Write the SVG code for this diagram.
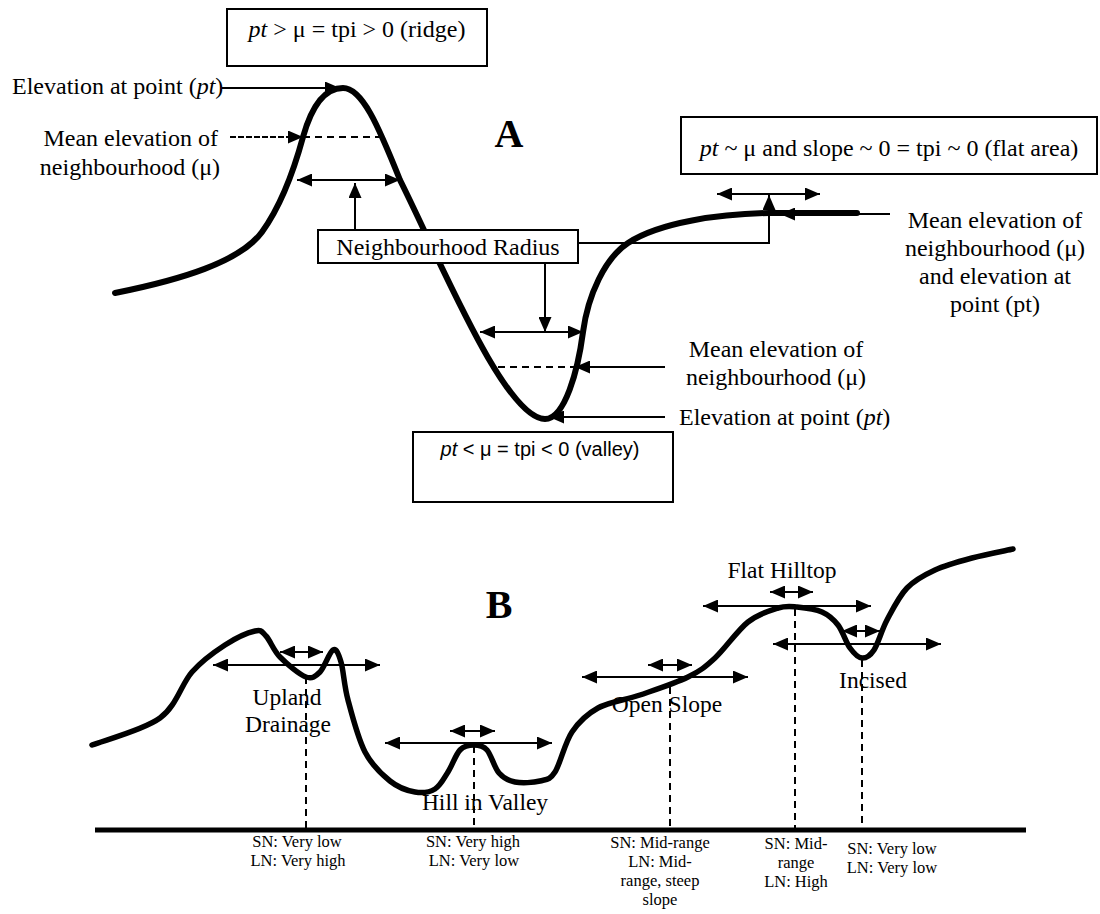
<svg xmlns="http://www.w3.org/2000/svg" width="1100" height="914" viewBox="0 0 1100 914">
<defs>
<style>
.bg{fill:#ffffff}
.box{fill:#ffffff;stroke:#000;stroke-width:2}
.lbl{font-family:"Liberation Serif","Times New Roman",serif;font-size:24px;fill:#000}
.lblb{font-family:"Liberation Serif","Times New Roman",serif;font-size:23.5px;fill:#000}
.sml{font-family:"Liberation Serif","Times New Roman",serif;font-size:16.5px;fill:#000}
.sans{font-family:"Liberation Sans",Arial,sans-serif;font-size:20px;fill:#000}
.big{font-family:"Liberation Serif","Times New Roman",serif;font-size:40px;font-weight:bold;fill:#000}
.it{font-style:italic}
.curve{fill:none;stroke:#000;stroke-width:6;stroke-linecap:round;stroke-linejoin:round}
.curveb{fill:none;stroke:#000;stroke-width:5.5;stroke-linecap:round;stroke-linejoin:round}
.ln{fill:none;stroke:#000;stroke-width:2}
.dash{fill:none;stroke:#000;stroke-width:2;stroke-dasharray:7 5}
.vdash{fill:none;stroke:#000;stroke-width:2;stroke-dasharray:7 5}
.arr{marker-end:url(#ah)}
.darr{marker-start:url(#ah);marker-end:url(#ah)}
</style>
<marker id="ah" markerUnits="userSpaceOnUse" markerWidth="15" markerHeight="13" refX="15" refY="6.5" orient="auto-start-reverse">
<path d="M0,0 L15,6.5 L0,13 z" fill="#000"/>
</marker>
</defs>
<rect class="bg" x="0" y="0" width="1100" height="914"/>

<!-- Panel A -->
<g id="profileA">
<path class="curve" d="M115,293 C180,280 240,262 262,232 C280,207 294,170 303,137 C312,105 325,88 343,88 C362,88 378,125 400,180 C440,260 505,419 545,419 C565,419 578,370 583,332 C588,295 605,258 628,243 C660,222 720,214 769,213 L857,213"/>
</g>
<g id="labelA"><text class="big" x="509" y="147" text-anchor="middle">A</text></g>

<g id="ridgeBox">
<rect class="box" x="227" y="9" width="260" height="57"/>
<text class="lbl" x="357" y="37" text-anchor="middle"><tspan class="it">pt</tspan> &gt; μ = tpi &gt; 0 (ridge)</text>
</g>
<g id="flatBox">
<rect class="box" x="681" y="117" width="416" height="57"/>
<text class="lbl" x="889" y="156" text-anchor="middle"><tspan class="it">pt</tspan> ~ μ and slope ~ 0 = tpi ~ 0 (flat area)</text>
</g>
<g id="radiusBox">
<rect class="box" x="318" y="230" width="260" height="33"/>
<text class="lbl" x="448" y="255" text-anchor="middle">Neighbourhood Radius</text>
</g>
<g id="valleyBox">
<rect class="box" x="413" y="432" width="260" height="70"/>
<text class="sans" x="540" y="456" text-anchor="middle"><tspan class="it">pt</tspan> &lt; μ = tpi &lt; 0 (valley)</text>
</g>

<g id="ridgeLabels">
<text class="lbl" x="12" y="94">Elevation at point (<tspan class="it">pt</tspan>)</text>
<text class="lbl" x="218" y="146" text-anchor="end">Mean elevation of</text>
<text class="lbl" x="220" y="175" text-anchor="end">neighbourhood (μ)</text>
</g>
<g id="flatLabels">
<text class="lbl" x="995" y="228" text-anchor="middle">Mean elevation of</text>
<text class="lbl" x="995" y="256" text-anchor="middle">neighbourhood (μ)</text>
<text class="lbl" x="995" y="284" text-anchor="middle">and elevation at</text>
<text class="lbl" x="995" y="312" text-anchor="middle">point (pt)</text>
</g>
<g id="valleyLabels">
<text class="lbl" x="776" y="357" text-anchor="middle">Mean elevation of</text>
<text class="lbl" x="776" y="385" text-anchor="middle">neighbourhood (μ)</text>
<text class="lbl" x="679" y="425">Elevation at point (<tspan class="it">pt</tspan>)</text>
</g>

<g id="connectorsA">
<line class="ln arr" x1="222" y1="88" x2="340" y2="88"/>
<line class="ln arr" x1="230" y1="137" x2="303" y2="137" stroke-dasharray="6 2"/>
<line class="dash" x1="303" y1="137" x2="380" y2="137"/>
<line class="ln darr" x1="297" y1="180" x2="400" y2="180"/>
<line class="ln arr" x1="355" y1="230" x2="355" y2="183"/>
<polyline class="ln arr" points="578,243 769,243 769,195"/>
<line class="ln darr" x1="717" y1="194" x2="820" y2="194"/>
<line class="ln arr" x1="890" y1="214" x2="780" y2="214"/>
<line class="ln arr" x1="545" y1="263" x2="545" y2="332"/>
<line class="ln darr" x1="480" y1="332" x2="583" y2="332"/>
<line class="dash" x1="498" y1="367" x2="575" y2="367"/>
<line class="ln arr" x1="665" y1="367" x2="575" y2="367"/>
<line class="ln arr" x1="665" y1="417" x2="549" y2="417"/>
</g>

<!-- Panel B -->
<g id="labelB"><text class="big" x="499" y="618" text-anchor="middle">B</text></g>
<g id="baseline"><line x1="95" y1="830" x2="1026" y2="830" stroke="#000" stroke-width="5"/></g>
<g id="profileB">
<path class="curveb" d="M92,745 C103.3,740.5 143.3,730.2 160,718 C176.7,705.8 181.2,684.2 192,672 C202.8,659.8 214.5,651.8 225,645 C235.5,638.2 248.2,632.5 255,631 C261.8,629.5 261.8,631.7 266,636 C270.2,640.3 273.3,650.2 280,657 C286.7,663.8 299.3,674.5 306,677 C312.3,679 315.5,676.5 320,672 C324.5,667.5 329.5,651.7 333,650 C336.5,648.3 338.5,653.7 341,662 C343.5,670.3 344,685 348,700 C352.3,716.2 358,738.5 365,752 C372,765.5 381.7,774.3 390,781 C398.3,787.7 407.5,790.7 415,792 C422.5,793.3 429.5,792.3 435,789 C440.5,785.7 443.8,778.5 448,772 C452.2,765.5 455.7,754.5 460,750 C464.3,745.5 469.5,745 474,745 C478.5,745 482.8,745.3 487,750 C491.2,754.7 494.3,767.7 499,773 C503.7,778.3 508.2,780.7 515,782 C521.8,783.3 533.3,782.7 540,781 C546.7,779.3 549.7,780.2 555,772 C560.3,763.8 564.8,742.7 572,732 C579.2,721.3 586.7,714.2 598,708 C609.3,701.8 625,700.2 640,695 C655,689.8 675.5,683.2 688,677 C700.5,670.8 705,667.2 715,658 C725,648.8 737.5,630.3 748,622 C758.5,613.7 769.8,610.5 778,608 C786.2,605.5 789.7,606.3 797,607 C804.3,607.7 815.2,609 822,612 C828.8,615 833.3,619 838,625 C842.7,631 846,642.5 850,648 C854,653.5 858,657.7 862,658 C866,658.3 869.8,656.3 874,650 C878.2,643.7 881.5,630.3 887,620 C892.5,609.7 899,596.3 907,588 C915,579.7 924.2,575 935,570 C945.8,565 959,561.5 972,558 C985,554.5 1006.2,550.5 1013,549"/>
</g>

<g id="upland">
<text class="lblb" x="287" y="705" text-anchor="middle">Upland</text>
<text class="lblb" x="288" y="732" text-anchor="middle">Drainage</text>
<text class="sml" x="297" y="847" text-anchor="middle">SN: Very low</text>
<text class="sml" x="298" y="866" text-anchor="middle">LN: Very high</text>
</g>
<g id="hillValley">
<text class="lblb" x="485" y="810" text-anchor="middle">Hill in Valley</text>
<text class="sml" x="473" y="847" text-anchor="middle">SN: Very high</text>
<text class="sml" x="474" y="866" text-anchor="middle">LN: Very low</text>
</g>
<g id="openSlope">
<text class="lblb" x="667" y="712" text-anchor="middle">Open Slope</text>
<text class="sml" x="660" y="848" text-anchor="middle">SN: Mid-range</text>
<text class="sml" x="660" y="867" text-anchor="middle">LN: Mid-</text>
<text class="sml" x="660" y="886" text-anchor="middle">range, steep</text>
<text class="sml" x="660" y="905" text-anchor="middle">slope</text>
</g>
<g id="flatHilltop">
<text class="lblb" x="782" y="578" text-anchor="middle">Flat Hilltop</text>
<text class="sml" x="796" y="849" text-anchor="middle">SN: Mid-</text>
<text class="sml" x="796" y="868" text-anchor="middle">range</text>
<text class="sml" x="796" y="887" text-anchor="middle">LN: High</text>
</g>
<g id="incised">
<text class="lblb" x="873" y="688" text-anchor="middle">Incised</text>
<text class="sml" x="892" y="854" text-anchor="middle">SN: Very low</text>
<text class="sml" x="892" y="873" text-anchor="middle">LN: Very low</text>
</g>

<g id="connectorsB">
<line class="ln darr" x1="213" y1="665" x2="380" y2="665"/>
<line class="ln darr" x1="280" y1="652" x2="323" y2="652"/>
<line class="vdash" x1="306" y1="677" x2="306" y2="830"/>
<line class="ln darr" x1="385" y1="743" x2="552" y2="743"/>
<line class="ln darr" x1="450" y1="731" x2="495" y2="731"/>
<line class="vdash" x1="474" y1="746" x2="474" y2="830"/>
<line class="ln darr" x1="582" y1="677" x2="748" y2="677"/>
<line class="ln darr" x1="648" y1="665" x2="692" y2="665"/>
<line class="vdash" x1="670" y1="687" x2="670" y2="830"/>
<line class="ln darr" x1="703" y1="606" x2="871" y2="606"/>
<line class="ln darr" x1="770" y1="592" x2="813" y2="592"/>
<line class="vdash" x1="795" y1="609" x2="795" y2="830"/>
<line class="ln darr" x1="773" y1="644" x2="941" y2="644"/>
<line class="ln darr" x1="842" y1="631" x2="880" y2="631"/>
<line class="vdash" x1="862" y1="660" x2="862" y2="830"/>
</g>
</svg>
